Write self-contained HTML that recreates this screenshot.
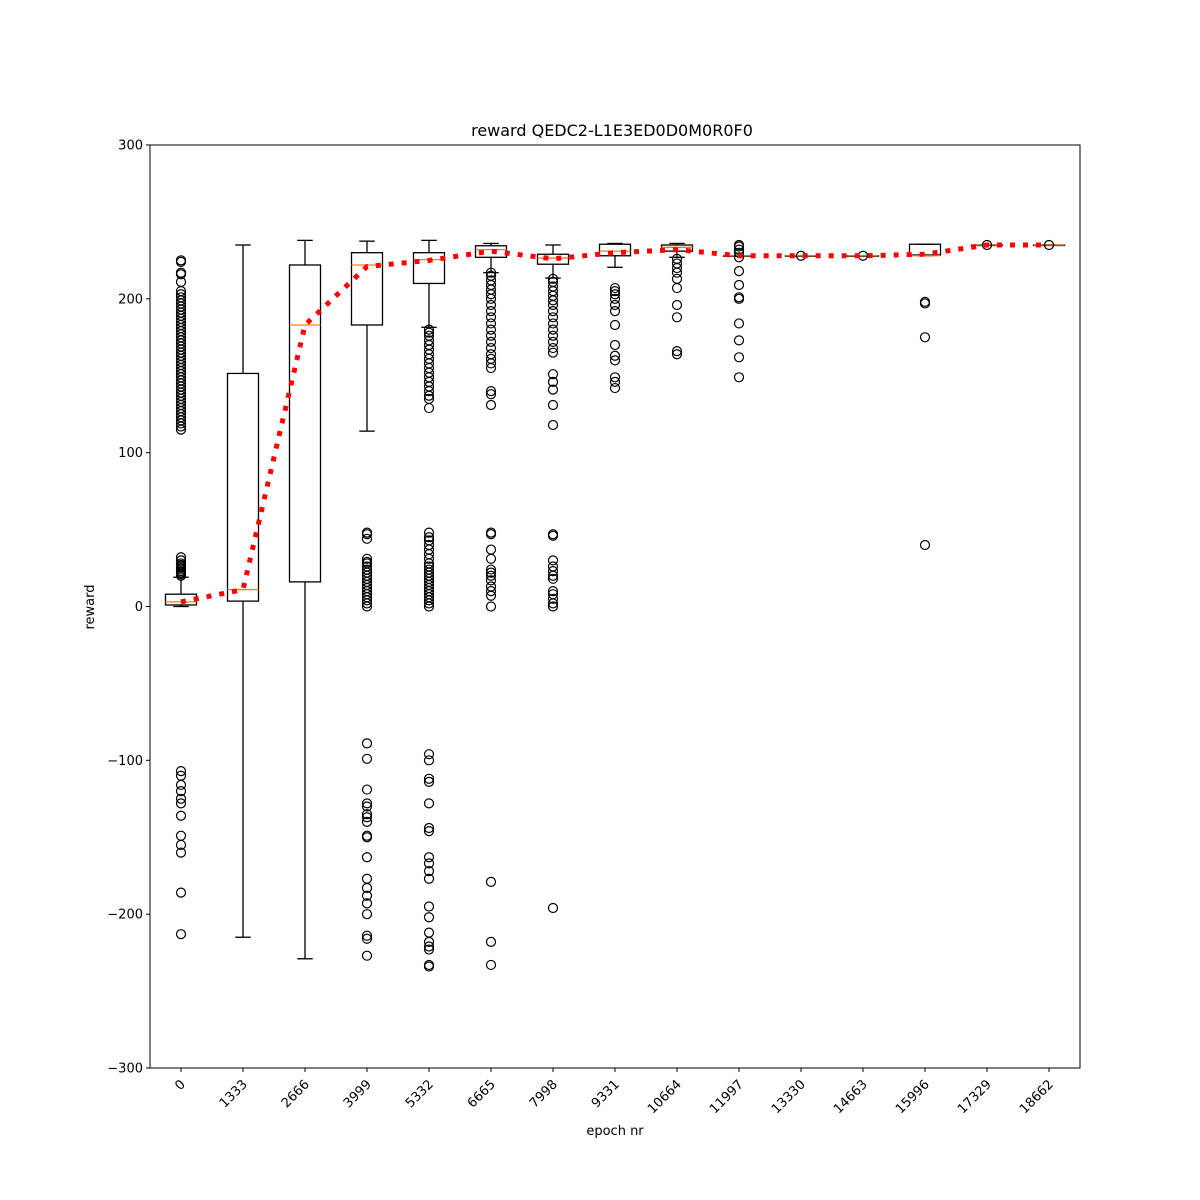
<!DOCTYPE html>
<html><head><meta charset="utf-8"><style>
html,body{margin:0;padding:0;background:#fff;}
svg{display:block;font-family:"DejaVu Sans","Liberation Sans",sans-serif;}
</style></head><body>
<svg id="chart" width="1200" height="1200" viewBox="0 0 1200 1200" xmlns="http://www.w3.org/2000/svg">
<rect width="1200" height="1200" fill="#fff"/>
<text x="612" y="136" text-anchor="middle" font-size="16">reward QEDC2-L1E3ED0D0M0R0F0</text>
<text x="615" y="1135" text-anchor="middle" font-size="13">epoch nr</text>
<text x="94" y="607" text-anchor="middle" font-size="13" transform="rotate(-90 94 607)">reward</text>
<g id="marks"></g>
<rect x="150" y="145" width="930" height="923" fill="none" stroke="#000" stroke-width="1"/>
<g id="axes"></g>
</svg>
<script>
const categories = ["0","1333","2666","3999","5332","6665","7998","9331","10664","11997","13330","14663","15996","17329","18662"];
const whiskerLow = [0,-215,-229,114,181.5,217,213.5,220.5,227,228,228,228,228,235,235];
const q1 = [1,3.5,16,183,210,227,222.5,228,231,228,228,228,228.5,235,235];
const medians = [3,11,183,222,225.5,232,226.5,231,233.5,228,228,228,228,235,235];
const q3 = [8,151.5,222,230,230,234.5,229,235.5,235,228,228,228,235.5,235,235];
const whiskerHigh = [19,235,238,237.5,238,236,235,236,236,228,228,228,235.5,235,235];
const means = [3,11,183,221,225,231,226,230,232,228,228,228,229,235,235];
const outliers = [
 [225,224,217,216,211,205,203,201,199,197,195,193,191,189,187,185,183,181,179,177,175,173,171,169,167,165,163,161,159,157,155,153,151,149,147,145,143,141,139,137,135,133,131,129,127,125,123,121,119,117,115,20,21,22,23,24,25,26,27,28,30,32,-107,-110,-116,-120,-125,-128,-136,-149,-155,-160,-186,-213],
 [],
 [],
 [0,2,4,6,8,10,12,14,16,18,20,22,24,26,28,29,31,44,47,48,-89,-99,-119,-128,-130,-135,-137,-140,-149,-150,-163,-177,-183,-188,-193,-200,-214,-216,-227],
 [129,135,137,140,143,146,149,152,155,158,161,164,167,170,173,176,178,180,0,2,4,6,8,10,12,14,16,18,20,22,24,26,28,31,34,37,40,43,45,48,-96,-100,-112,-114,-128,-144,-146,-163,-167,-172,-177,-195,-202,-212,-218,-221,-223,-233,-234],
 [131,138,140,155,158,161,164,168,172,176,180,184,188,192,196,200,203,206,209,212,215,217,0,7,10,13,17,20,22,24,31,37,47,48,-179,-218,-233],
 [118,131,141,146,151,165,168,172,176,180,184,188,192,196,199,202,205,208,211,213,0,2,5,8,10,18,20,23,26,30,46,47,-196],
 [142,146,149,160,163,170,183,192,196,200,203,205,207],
 [164,166,188,196,207,213,217,220,223,226],
 [149,162,173,184,200,201,209,218,227,230,232,234,235],
 [228],
 [228],
 [175,197,198,40],
 [235],
 [235]
];
const yTicks = [-300,-200,-100,0,100,200,300];

const NS = "http://www.w3.org/2000/svg";
const X0 = 150, X1 = 1080, Y0 = 145, Y1 = 1068;
function xPos(i){ return X0 + (i + 0.5) * (X1 - X0) / categories.length; }
function yPos(v){ return Y1 - (v + 300) / 600 * (Y1 - Y0); }
function mk(tag, attrs, parent){ const e = document.createElementNS(NS, tag); for (const k in attrs) e.setAttribute(k, attrs[k]); parent.appendChild(e); return e; }
const marks = document.getElementById('marks');
const axes = document.getElementById('axes');
const bw = 31;

categories.forEach((c, i) => {
  const x = xPos(i);
  const g = mk('g', {}, marks);
  
  
  const ln = {stroke:'#000','stroke-width':1.3};
  const w1 = mk('line', Object.assign({x1:x,x2:x,y1:yPos(q1[i]),y2:yPos(whiskerLow[i])}, ln), g);
  
  
  const w2 = mk('line', Object.assign({x1:x,x2:x,y1:yPos(q3[i]),y2:yPos(whiskerHigh[i])}, ln), g);
  
  
  const c1 = mk('line', Object.assign({x1:x-bw/4,x2:x+bw/4,y1:yPos(whiskerLow[i]),y2:yPos(whiskerLow[i])}, ln), g);
  
  
  const c2 = mk('line', Object.assign({x1:x-bw/4,x2:x+bw/4,y1:yPos(whiskerHigh[i]),y2:yPos(whiskerHigh[i])}, ln), g);
  
  
  const r = mk('rect', {x:x-bw/2, y:yPos(q3[i]), width:bw, height:Math.max(0.5, yPos(q1[i]) - yPos(q3[i])), fill:'none', stroke:'#000','stroke-width':1.3}, g);
  
  
  const m = mk('line', {x1:x-bw/2,x2:x+bw/2,y1:yPos(medians[i]),y2:yPos(medians[i]),stroke:'#ff7f0e','stroke-width':1.3}, g);
  
  
  outliers[i].forEach(v => {
    const o = mk('circle', {cx:x, cy:yPos(v), r:4.5, fill:'none', stroke:'#000','stroke-width':1.2}, g);
    
    
  });
});

const pts = means.map((v, i) => xPos(i) + ',' + yPos(v)).join(' ');
const meanLine = mk('polyline', {points:pts, fill:'none', stroke:'#ff0000', 'stroke-width':5, 'stroke-dasharray':'5 8'}, marks);



yTicks.forEach(t => {
  const y = yPos(t);
  const tk = mk('line', {x1:X0-4, x2:X0, y1:y, y2:y, stroke:'#000','stroke-width':1}, axes);
  
  
  const lb = mk('text', {x:X0-7, y:y+4.5, 'text-anchor':'end', 'font-size':13}, axes);
  lb.textContent = t < 0 ? '\u2212' + Math.abs(t) : String(t);
  
  
});
categories.forEach((c, i) => {
  const x = xPos(i);
  const tk = mk('line', {x1:x, x2:x, y1:Y1, y2:Y1+4, stroke:'#000','stroke-width':1}, axes);
  
  
  const lb = mk('text', {x:x+5, y:Y1+17, 'text-anchor':'end', 'font-size':13, transform:'rotate(-45 ' + (x+5) + ' ' + (Y1+17) + ')'}, axes);
  lb.textContent = c;
  
  
});
</script>
</body></html>
